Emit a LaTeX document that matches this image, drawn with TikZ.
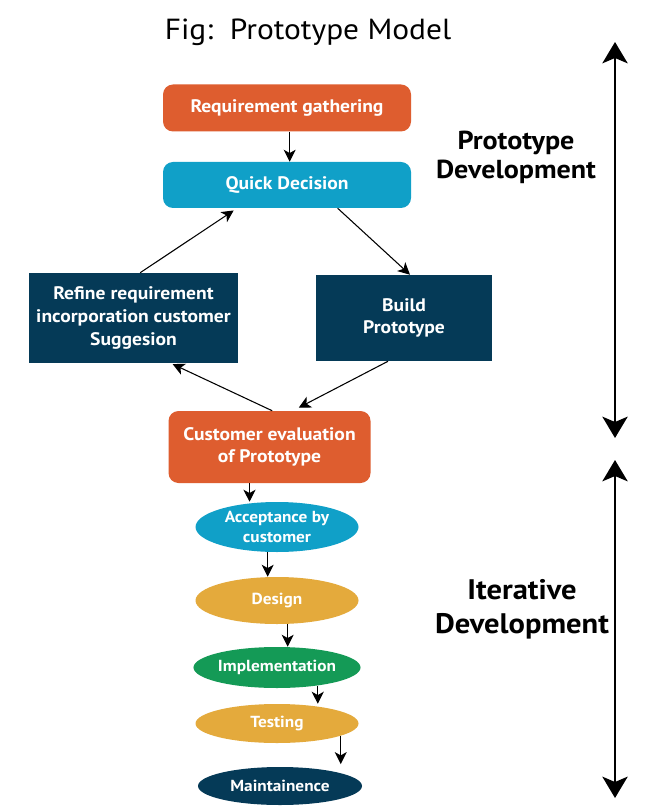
\documentclass[tikz,border=0pt]{standalone}
\usepackage{fontspec}
\setmainfont{PT Sans}[FakeStretch=1.08]
\usetikzlibrary{arrows.meta, shapes.geometric}

\definecolor{orng}{RGB}{222,93,47}
\definecolor{cyn}{RGB}{16,160,200}
\definecolor{navy}{RGB}{5,58,87}
\definecolor{ylw}{RGB}{228,170,60}
\definecolor{grn}{RGB}{20,154,86}

\begin{document}
\begin{tikzpicture}[x=0.75pt, y=-0.75pt,
    procbox/.style={rectangle, inner sep=0pt, text=white, align=center,
      font=\bfseries\fontsize{13.6}{17}\selectfont},
    roundbox/.style={procbox, rounded corners=7.5pt},
    stageoval/.style={ellipse, inner sep=0pt, text=white, align=center,
      minimum width=122.25pt, font=\bfseries\fontsize{12}{14.3}\selectfont},
    flowarrow/.style={-{Stealth[length=9pt, width=9pt, inset=2.5pt]}, line width=0.8pt},
    phasearrow/.style={{Stealth[length=16pt, width=19pt, inset=4pt]}-{Stealth[length=16pt, width=19pt, inset=4pt]}, line width=1.6pt},
    phaselabel/.style={align=center}]
  \useasboundingbox[fill=white] (0,0) rectangle (651,812);

  \node[anchor=base, font=\fontsize{21.8}{25}\selectfont] (title) at (308,40) {Fig:~~Prototype Model};

  \node[roundbox, fill=orng, minimum width=186pt, minimum height=35.25pt] (req) at (287,108) {Requirement gathering};
  \node[roundbox, fill=cyn, minimum width=186pt, minimum height=34.5pt] (qd) at (287,185) {Quick Decision};
  \node[procbox, fill=navy, minimum width=156.75pt, minimum height=67.5pt] (refine) at (133.5,318) {Refine requirement\\incorporation customer\\Suggesion};
  \node[procbox, fill=navy, minimum width=132pt, minimum height=64.5pt] (build) at (404,318) {Build\\Prototype};
  \node[roundbox, fill=orng, minimum width=151.5pt, minimum height=54pt] (ceval) at (269.5,447) {Customer evaluation\\of Prototype};

  \node[stageoval, fill=cyn, minimum height=37.5pt] (accept) at (277,527) {Acceptance by\\customer};
  \node[stageoval, fill=ylw, minimum height=35.25pt] (design) at (277,600.5) {Design};
  \node[stageoval, fill=grn, minimum height=30.75pt] (impl) at (277,667.5) {Implementation};
  \node[stageoval, fill=ylw, minimum height=29.25pt] (test) at (277,723.5) {Testing};
  \node[stageoval, fill=navy, minimum width=123pt, minimum height=28.5pt] (maint) at (280,786) {Maintainence};

  \draw[flowarrow] ([xshift=2pt]req.south) -- ([xshift=2pt]qd.north);
  \draw[flowarrow] ([xshift=38pt]qd.south) -- ([xshift=4.5pt]build.north);
  \draw[flowarrow, shorten >=3pt] ([xshift=5pt]refine.north) -- ([xshift=-37.5pt]qd.south);
  \draw[flowarrow, shorten >=1.5pt] ([xshift=2pt]ceval.north) -- ([xshift=28pt]refine.south);
  \draw[flowarrow, shorten >=5pt] ([xshift=-12pt]build.south) -- ([xshift=17.5pt]ceval.north);

  \draw[flowarrow] ([xshift=-15pt]ceval.south) -- ([xshift=-15pt]ceval.south |- accept.north);
  \draw[flowarrow] ([xshift=-7pt]accept.south) -- ([xshift=-7pt]accept.south |- design.north);
  \draw[flowarrow] ([xshift=8pt]design.south) -- ([xshift=8pt]design.south |- impl.north);
  \draw[flowarrow] (impl.-24) -- (impl.-24 |- test.north);
  \draw[flowarrow, shorten >=2pt] (test.-11.5) -- (test.-11.5 |- maint.north);

  \node[phaselabel, font=\bfseries\fontsize{19.5}{21.75}\selectfont] (protolbl) at (516,157) {Prototype\\Development};
  \node[phaselabel, font=\bfseries\fontsize{21.2}{25.5}\selectfont] (iterlbl) at (522,609.5) {Iterative\\Development};

  \coordinate (ptop) at (615,42);
  \coordinate (pbot) at (615,438);
  \coordinate (itop) at (615,460);
  \coordinate (ibot) at (615,798);
  \draw[phasearrow] (ptop) -- (pbot);
  \draw[phasearrow] (itop) -- (ibot);
\end{tikzpicture}
\end{document}
